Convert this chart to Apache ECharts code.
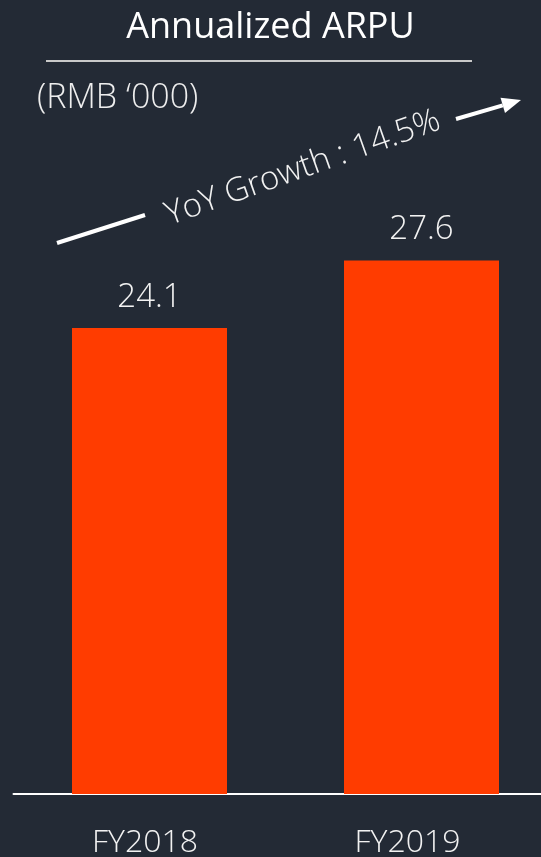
<!DOCTYPE html>
<html>
<head>
<meta charset="utf-8">
<script src="https://cdn.jsdelivr.net/npm/echarts@6/dist/echarts.min.js"></script>
<style>
html,body{margin:0;padding:0;background:#232a35;}
#main{width:541px;height:857px;}
</style>
</head>
<body>
<div id="main"></div>
<script>
var categories = ['FY2018', 'FY2019'];
var arpuValues = [24.1, 27.6];
var titleText = 'Annualized ARPU';
var unitText = '(RMB \u2018000)';
var growthText = 'YoY Growth : 14.5%';

var FONT = "'Open Sans', 'Noto Sans', sans-serif";
var chart = echarts.init(document.getElementById('main'));

function arrowHead(x1, y1, x2, y2, len, half) {
  var dx = x2 - x1, dy = y2 - y1, L = Math.sqrt(dx*dx + dy*dy);
  var ux = dx / L, uy = dy / L, nx = -uy, ny = ux;
  var bx = x2 - ux * len, by = y2 - uy * len;
  return [[x2, y2], [bx + nx * half, by + ny * half], [bx - nx * half, by - ny * half]];
}
var head = arrowHead(456, 119, 521, 100, 19, 8);

chart.setOption({
  backgroundColor: '#232a35',
  animation: false,
  grid: { left: 13.5, width: 544, top: 214, bottom: 63, containLabel: false, outerBoundsMode: 'none' },
  xAxis: {
    type: 'category',
    data: categories,
    axisLine: { show: true, lineStyle: { color: '#ffffff', width: 2 } },
    axisTick: { show: false },
    axisLabel: {
      margin: 33,
      color: '#f2f2f2',
      fontSize: 32,
      fontFamily: FONT,
      fontWeight: 300,
      formatter: function (v, i) { return '{c' + i + '|' + v + '}'; },
      rich: {
        c0: { fontSize: 32, fontFamily: FONT, fontWeight: 300, color: '#f2f2f2', padding: [0, 9, 0, 0] },
        c1: { fontSize: 32, fontFamily: FONT, fontWeight: 300, color: '#f2f2f2', padding: [0, 28, 0, 0] }
      }
    }
  },
  yAxis: {
    type: 'value', min: 0, max: 30, show: false,
    splitLine: { show: false }
  },
  series: [{
    type: 'bar',
    data: arpuValues,
    barWidth: 155,
    itemStyle: { color: '#ff3c00' },
    label: {
      show: true, position: 'top', distance: 14,
      color: '#f2f2f2', fontSize: 33, fontFamily: FONT, fontWeight: 300,
      formatter: function (p) { return p.value.toFixed(1); }
    }
  }],
  graphic: [
    { type: 'text', left: 'center', top: 10,
      style: { text: titleText, fill: '#ffffff', font: '36px ' + FONT } },
    { type: 'line', shape: { x1: 46, y1: 61, x2: 472, y2: 61 },
      style: { stroke: '#c9c9c9', lineWidth: 2 } },
    { type: 'text', x: 37, y: 81,
      style: { text: unitText, fill: '#eeeeee', font: '300 34px ' + FONT } },
    { type: 'line', shape: { x1: 57, y1: 243, x2: 145, y2: 215 },
      style: { stroke: '#ffffff', lineWidth: 4 } },
    { type: 'line', shape: { x1: 456, y1: 119, x2: (head[1][0] + head[2][0]) / 2, y2: (head[1][1] + head[2][1]) / 2 },
      style: { stroke: '#ffffff', lineWidth: 4 } },
    { type: 'polygon', shape: { points: head }, style: { fill: '#ffffff' } },
    { type: 'text', x: 303, y: 168, rotation: 19.5 * Math.PI / 180,
      style: { text: growthText, fill: '#f2f2f2', font: '300 33px ' + FONT,
               align: 'center', verticalAlign: 'middle' } }
  ]
});
</script>
</body>
</html>
